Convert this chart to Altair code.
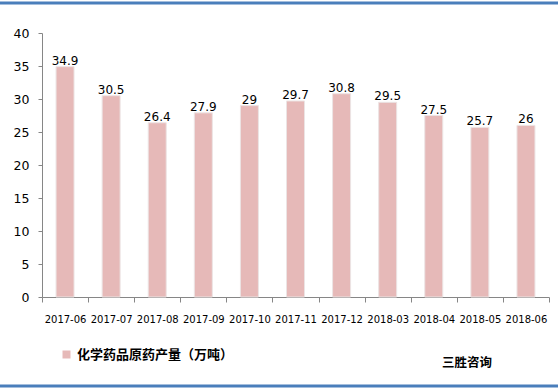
import altair as alt
import pandas as pd

months = ["2017-06", "2017-07", "2017-08", "2017-09", "2017-10", "2017-11",
          "2017-12", "2018-03", "2018-04", "2018-05", "2018-06"]
values = [34.9, 30.5, 26.4, 27.9, 29, 29.7, 30.8, 29.5, 27.5, 25.7, 26]
series_name = "化学药品原药产量（万吨）"
y_ticks = [0, 5, 10, 15, 20, 25, 30, 35, 40]

df = pd.DataFrame({"month": months, "value": values, "series": series_name})

W, H = 507, 264
PAD_L, PAD_T, PAD_R, PAD_B = 42, 33, 9, 92

x_enc = alt.X("month:N", sort=months, title=None,
              scale=alt.Scale(paddingInner=0, paddingOuter=0),
              axis=alt.Axis(labelAngle=0, tickBand="extent", tickSize=5,
                            labelPadding=12, labelFont="DejaVu Sans",
                            labelFontSize=10, labelColor="#000000",
                            labelOverlap=False,
                            domainColor="#868686", tickColor="#868686"))
y_enc = alt.Y("value:Q", title=None,
              scale=alt.Scale(domain=[0, 40], nice=False),
              axis=alt.Axis(values=y_ticks, tickCount=9, tickSize=4,
                            labelPadding=9, labelOverlap=False,
                            labelFont="DejaVu Sans", labelFontSize=12.5,
                            labelColor="#000000", grid=False,
                            domainColor="#868686", tickColor="#868686"))

bars = alt.Chart(df).mark_bar(size=18, stroke="#ece4e4", strokeWidth=1).encode(
    x=x_enc,
    y=y_enc,
    color=alt.Color("series:N", title=None,
                    scale=alt.Scale(range=["#E6B9B8"]),
                    legend=alt.Legend(orient="none", legendX=18, legendY=315,
                                      symbolType="square", symbolSize=64,
                                      symbolStrokeWidth=0,
                                      labelFont="Noto Sans CJK SC",
                                      labelFontSize=13, labelFontWeight="bold",
                                      labelColor="#000000")),
)

labels = alt.Chart(df).mark_text(baseline="bottom", dy=1, font="DejaVu Sans",
                                 fontSize=12, color="#000000").encode(
    x=alt.X("month:N", sort=months),
    y="value:Q",
    text=alt.Text("value:Q"),
)

source = alt.Chart(pd.DataFrame({"t": ["三胜咨询"]})).mark_text(
    font="Noto Sans CJK SC", fontSize=12.5, fontWeight="bold",
    color="#000000", align="left", baseline="middle").encode(
    x=alt.value(442 - PAD_L), y=alt.value(363 - PAD_T), text="t:N")

top_line = alt.Chart(pd.DataFrame({"a": [0]})).mark_rule(
    color="#4A7EBB", strokeWidth=3).encode(
    x=alt.value(-PAD_L), x2=alt.value(558 - PAD_L),
    y=alt.value(3 - PAD_T))
bottom_line = alt.Chart(pd.DataFrame({"a": [0]})).mark_rule(
    color="#4A7EBB", strokeWidth=3).encode(
    x=alt.value(-PAD_L), x2=alt.value(558 - PAD_L),
    y=alt.value(386 - PAD_T))

chart = alt.layer(bars, labels, source, top_line, bottom_line).properties(
    width=W, height=H,
    padding={"left": PAD_L, "top": PAD_T, "right": PAD_R, "bottom": PAD_B},
    autosize=alt.AutoSizeParams(type="none"),
    background="#ffffff",
).configure_view(stroke=None)

chart.save("out.html", embed_options={"renderer": "svg", "actions": False})
